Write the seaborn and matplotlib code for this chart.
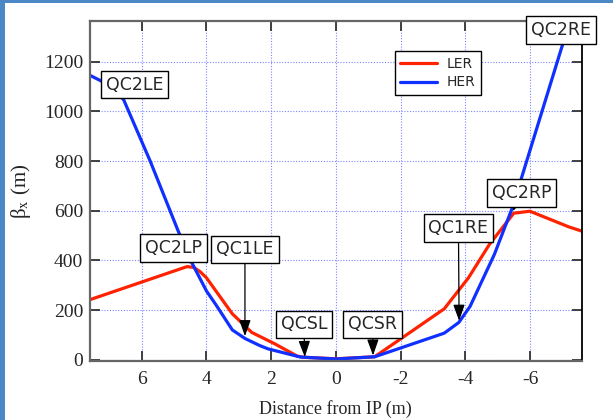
import numpy as np
import pandas as pd
import matplotlib
matplotlib.use("Agg")
import matplotlib.pyplot as plt
from matplotlib.patches import Rectangle
import seaborn as sns

# ---- data ----
ler_x = [7.6, 4.6, 4.4, 4.2, 4.0, 3.2, 2.6, 1.9, 1.2, 1.0, 0.0, -1.2, -3.35, -4.1, -4.75, -5.05, -5.5, -6.0, -7.2, -7.6]
ler_y = [242, 375, 372, 355, 330, 185, 110, 65, 15, 10, 4, 12, 205, 330, 465, 515, 590, 598, 535, 518]

her_x = [7.6, 7.25, 6.9, 6.56, 5.74, 4.87, 4.45, 4.0, 3.7, 3.2, 2.8, 2.35, 2.1, 1.1, 0.0, -1.2, -3.35, -3.8, -4.15, -4.9, -5.45, -7.0, -7.3]
her_y = [1145, 1122, 1095, 1047, 800, 517, 390, 277, 220, 120, 85, 57, 44, 11, 3, 12, 107, 150, 215, 424, 610, 1265, 1395]

magnet_names = ["QC2LE", "QC2LP", "QC1LE", "QCSL", "QCSR", "QC1RE", "QC2RP", "QC2RE"]
label_x = [6.22, 5.02, 2.81, 0.99, -1.14, -3.79, -5.74, -6.97]
label_y = [1108, 451, 444, 142, 142, 529, 672, 1329]
arrow_x = [None, 4.47, 2.81, 0.96, -1.15, -3.81, -5.47, None]
arrow_y = [None, 386, 95, 11, 17, 157, 598, None]

x_ticks = [6, 4, 2, 0, -2, -4, -6]
y_ticks = [0, 200, 400, 600, 800, 1000, 1200]

df = pd.concat([
    pd.DataFrame({"s": ler_x, "beta": ler_y, "ring": "LER"}),
    pd.DataFrame({"s": her_x, "beta": her_y, "ring": "HER"}),
], ignore_index=True)

sns.set_style("ticks")
plt.rcParams["font.family"] = ["Liberation Serif", "DejaVu Serif"]
plt.rcParams["mathtext.fontset"] = "stix"

fig = plt.figure(figsize=(6.13, 4.2), dpi=100)
fig.patch.set_facecolor("#4a88c6")
fig.add_artist(Rectangle((5 / 613, 0), 1, (420 - 3) / 420, transform=fig.transFigure,
                         facecolor="white", edgecolor="none", zorder=-1))
ax = fig.add_axes([90 / 613, 1 - 361 / 420, 491.7 / 613, 340.3 / 420])
ax.set_facecolor("white")

sns.lineplot(data=df, x="s", y="beta", hue="ring", sort=False, estimator=None,
             palette={"LER": "#ff2200", "HER": "#1030ff"}, linewidth=2.3, ax=ax)

ax.set_xlim(7.6, -7.6)
ax.set_ylim(-5, 1365)
ax.set_xticks(x_ticks)
ax.set_yticks(y_ticks)
ax.set_xticklabels([f"{t}" for t in x_ticks])
ax.grid(True, linestyle=(0, (1, 1.5)), color="#7f86ff", linewidth=0.8)
ax.tick_params(direction="in", length=7, width=1.3, top=True, right=True,
               labelsize=14, color="#333333", pad=5)
ax.tick_params(axis="x", pad=7)
for side in ["left", "top", "bottom"]:
    ax.spines[side].set_color("#666666")
    ax.spines[side].set_linewidth(1.6)
ax.spines["right"].set_color("#000000")
ax.spines["right"].set_linewidth(1.3)

ax.set_xlabel("Distance from IP (m)", fontsize=13, labelpad=9)
ax.set_ylabel(r"β$_{\rm x}$ (m)", fontsize=15, labelpad=8)

leg = ax.legend(loc="upper left", bbox_to_anchor=(0.62, 0.911), frameon=True,
                fancybox=False, edgecolor="black", framealpha=1, borderaxespad=0,
                prop={"family": "DejaVu Sans", "size": 10}, handlelength=2.6,
                borderpad=0.4, labelspacing=0.35, handletextpad=0.7)
leg.get_frame().set_linewidth(1.0)

for name, tx, ty, axp, ayp in zip(magnet_names, label_x, label_y, arrow_x, arrow_y):
    bbox = dict(boxstyle="square,pad=0.28", facecolor="white", edgecolor="black", linewidth=1.0)
    if axp is None:
        ax.annotate(name, xy=(tx, ty), ha="center", va="center", fontsize=12.5,
                    family="DejaVu Sans", bbox=bbox, annotation_clip=False, zorder=5)
    else:
        ax.annotate(name, xy=(axp, ayp), xytext=(tx, ty), ha="center", va="center",
                    fontsize=12.5, family="DejaVu Sans", bbox=bbox, annotation_clip=False,
                    zorder=5,
                    arrowprops=dict(arrowstyle="-|>,head_length=0.7,head_width=0.25",
                                    color="black", lw=0.9, shrinkA=0, shrinkB=0,
                                    mutation_scale=14))

fig.savefig("out.png", dpi=100)
